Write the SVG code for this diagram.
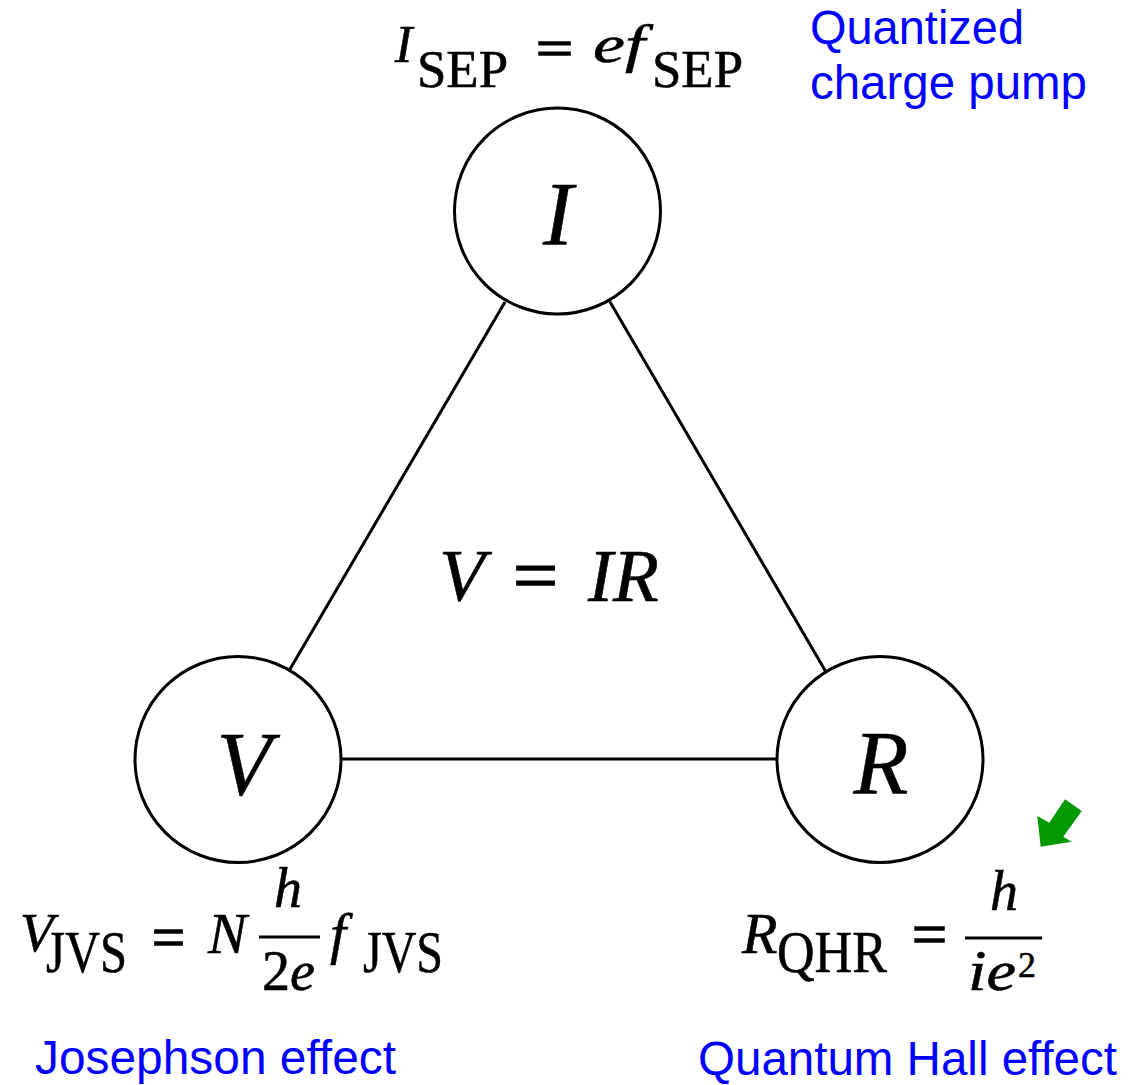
<svg xmlns="http://www.w3.org/2000/svg" width="1128" height="1085" viewBox="0 0 1128 1085">
<style>
.node{fill:#fff;stroke:#000;stroke-width:3}
.edge{stroke:#000;stroke-width:3;fill:none}
.m{font-family:"Liberation Serif","DejaVu Serif",serif;fill:#000;stroke:#000;stroke-width:0.55}
.eq{stroke-width:1.6}
.it{font-style:italic}
.lbl{font-family:"Liberation Sans",Arial,sans-serif;fill:#0000ff;font-size:48px}
</style>
<rect width="1128" height="1085" fill="#fff"/>
<g id="connectors">
<line class="edge" x1="289.5" y1="670" x2="505" y2="302"/>
<line class="edge" x1="609.5" y1="301" x2="826" y2="672"/>
<line class="edge" x1="341" y1="759" x2="777" y2="759"/>
</g>
<g id="node-I">
<circle class="node" cx="557.5" cy="211" r="103"/>
<text class="m it" x="558" y="245" font-size="90" text-anchor="middle">I</text>
</g>
<g id="node-V">
<circle class="node" cx="238" cy="759.5" r="103"/>
<text class="m it" x="244" y="795" font-size="90" text-anchor="middle">V</text>
</g>
<g id="node-R">
<circle class="node" cx="880" cy="759.5" r="103"/>
<text class="m it" x="881" y="794" font-size="90" text-anchor="middle">R</text>
</g>
<g id="formula-center">
<text class="m it" x="439" y="601" font-size="75">V</text>
<text class="m eq" x="513" y="600" font-size="75" textLength="45" lengthAdjust="spacingAndGlyphs">=</text>
<text class="m it" x="588" y="601" font-size="75">IR</text>
</g>
<g id="formula-I">
<text class="m it" x="395" y="62" font-size="52">I</text>
<text class="m" x="417" y="87" font-size="52" textLength="91" lengthAdjust="spacingAndGlyphs">SEP</text>
<text class="m eq" x="536" y="66" font-size="52" textLength="37" lengthAdjust="spacingAndGlyphs">=</text>
<text class="m it" x="593" y="62" font-size="52" textLength="52" lengthAdjust="spacingAndGlyphs">ef</text>
<text class="m" x="652" y="87" font-size="52" textLength="91" lengthAdjust="spacingAndGlyphs">SEP</text>
</g>
<g id="formula-V">
<text class="m it" x="20" y="951" font-size="55">V</text>
<text class="m" x="46" y="972" font-size="60" textLength="81" lengthAdjust="spacingAndGlyphs">JVS</text>
<text class="m eq" x="152" y="957" font-size="60" textLength="33" lengthAdjust="spacingAndGlyphs">=</text>
<text class="m it" x="208" y="953" font-size="58">N</text>
<text class="m it" x="288" y="907" font-size="56" text-anchor="middle">h</text>
<line x1="259" y1="937" x2="320" y2="937" stroke="#000" stroke-width="3"/>
<text class="m" x="262" y="990" font-size="56" textLength="53" lengthAdjust="spacingAndGlyphs">2<tspan font-style="italic">e</tspan></text>
<text class="m it" x="330" y="953" font-size="58">f</text>
<text class="m" x="363" y="972" font-size="60" textLength="80" lengthAdjust="spacingAndGlyphs">JVS</text>
</g>
<g id="formula-R">
<text class="m it" x="742" y="953" font-size="58">R</text>
<text class="m" x="777" y="972" font-size="60" textLength="110" lengthAdjust="spacingAndGlyphs">QHR</text>
<text class="m eq" x="912" y="954" font-size="60" textLength="35" lengthAdjust="spacingAndGlyphs">=</text>
<text class="m it" x="1004" y="910" font-size="56" text-anchor="middle">h</text>
<line x1="965" y1="938" x2="1042" y2="938" stroke="#000" stroke-width="3"/>
<text class="m it" x="968" y="990" font-size="56" textLength="48" lengthAdjust="spacingAndGlyphs">ie</text>
<text class="m" x="1018" y="977" font-size="36">2</text>
</g>
<g id="labels">
<text class="lbl" x="810" y="44" textLength="214" lengthAdjust="spacingAndGlyphs">Quantized</text>
<text class="lbl" x="810" y="99" textLength="277" lengthAdjust="spacingAndGlyphs">charge pump</text>
<text class="lbl" x="35" y="1074" textLength="361" lengthAdjust="spacingAndGlyphs">Josephson effect</text>
<text class="lbl" x="698" y="1075" textLength="419" lengthAdjust="spacingAndGlyphs">Quantum Hall effect</text>
</g>
<polygon id="green-arrow" fill="#009900" points="1065,799.3 1081.7,811 1063.3,836.7 1071.7,841.7 1040.7,846.7 1037.3,816 1049.3,822.7"/>
</svg>
